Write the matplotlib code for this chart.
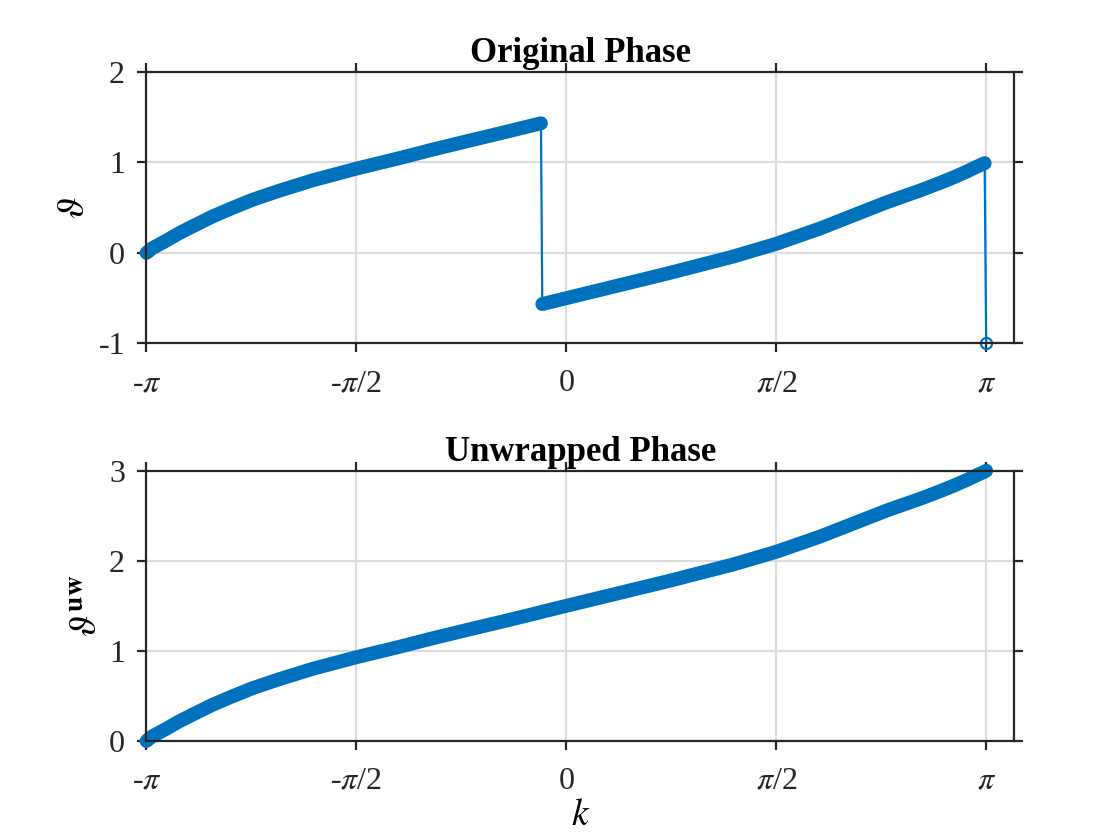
import numpy as np
import matplotlib.pyplot as plt

plt.rcParams['font.family'] = ['Liberation Serif', 'DejaVu Serif']
plt.rcParams['mathtext.fontset'] = 'stix'
plt.rcParams['axes.unicode_minus'] = False

# frequency samples (rad)
k = [-3.1416, -3.10, -3.05, -3.00, -2.90, -2.80, -2.65, -2.50, -2.35, -2.15,
     -1.90, -1.57, -1.25, -1.00, -0.75, -0.50, -0.19, -0.18, 0.00, 0.25,
     0.50, 0.75, 1.00, 1.25, 1.57, 1.90, 2.15, 2.40, 2.65, 2.80,
     2.90, 3.00, 3.07, 3.13, 3.1416]

# wrapped phase
phase = [0.00, 0.05, 0.09, 0.13, 0.215, 0.29, 0.40, 0.495, 0.585, 0.685,
         0.80, 0.93, 1.045, 1.14, 1.23, 1.318, 1.43, -0.565, -0.50, -0.41,
         -0.32, -0.23, -0.135, -0.04, 0.10, 0.27, 0.415, 0.56, 0.69, 0.775,
         0.835, 0.90, 0.95, 0.99, -1.00]

# unwrapped phase (lower panel)
phase_uw = [0.00, 0.05, 0.09, 0.13, 0.215, 0.29, 0.40, 0.495, 0.585, 0.685,
            0.80, 0.93, 1.045, 1.14, 1.23, 1.318, 1.43, 1.435, 1.50, 1.59,
            1.68, 1.77, 1.865, 1.96, 2.10, 2.27, 2.415, 2.56, 2.69, 2.775,
            2.835, 2.90, 2.95, 2.99, 3.00]

xtick_pos = [-np.pi, -np.pi / 2, 0, np.pi / 2, np.pi]
xtick_lbl = [r'-$\pi$', r'-$\pi$/2', '0', r'$\pi$/2', r'$\pi$']

blue = '#0072BD'
dark = '#262626'

fig = plt.figure(figsize=(11.2, 8.4), dpi=100)
ax1 = fig.add_axes([0.1308, 0.5911, 0.7746, 0.3236])
ax2 = fig.add_axes([0.1308, 0.1179, 0.7746, 0.3217])


def draw(ax, y):
    x = np.array(k)
    y = np.array(y)
    # thick band for each continuous piece (dense markers in the original)
    breaks = np.where(np.abs(np.diff(y)) > 1)[0] + 1
    lone = []
    start = 0
    for xs, ys in zip(np.split(x, breaks), np.split(y, breaks)):
        if len(xs) > 1:
            ax.plot(xs, ys, color=blue, lw=10, solid_capstyle='round',
                    solid_joinstyle='round', clip_on=False)
        else:
            lone.append(start)
        start += len(xs)
    ax.plot(x, y, color=blue, lw=1.6, marker='o', ms=8, mfc='none', mew=1.6,
            markevery=lone, clip_on=False)


draw(ax1, phase)
draw(ax2, phase_uw)

for ax in (ax1, ax2):
    ax.set_xlim(-np.pi, 3.35)
    ax.set_xticks(xtick_pos)
    ax.set_xticklabels(xtick_lbl)
    ax.grid(True, color='#dcdcdc', lw=1.6)
    ax.set_axisbelow(True)
    ax.tick_params(direction='out', length=6.5, width=1.6, top=True, right=True,
                   labelsize=23, colors=dark)
    ax.tick_params(axis='x', pad=12)
    ax.tick_params(axis='y', pad=9)
    for s in ax.spines.values():
        s.set_color(dark)
        s.set_linewidth(1.6)

ax1.set_ylim(-1, 2)
ax1.set_yticks([-1, 0, 1, 2])
ax2.set_ylim(0, 3)
ax2.set_yticks([0, 1, 2, 3])

ax1.set_title('Original Phase', fontsize=25, fontweight='bold', pad=7)
ax2.set_title('Unwrapped Phase', fontsize=25, fontweight='bold', pad=7)
ax1.set_ylabel(r'$\vartheta$', fontsize=28, labelpad=4)
ax2.set_ylabel(r'$\vartheta^{\mathbf{uw}}$', fontsize=28, labelpad=2)
ax2.set_xlabel(r'$k$', fontsize=27, labelpad=2)

fig.savefig('out.png', dpi=100)
